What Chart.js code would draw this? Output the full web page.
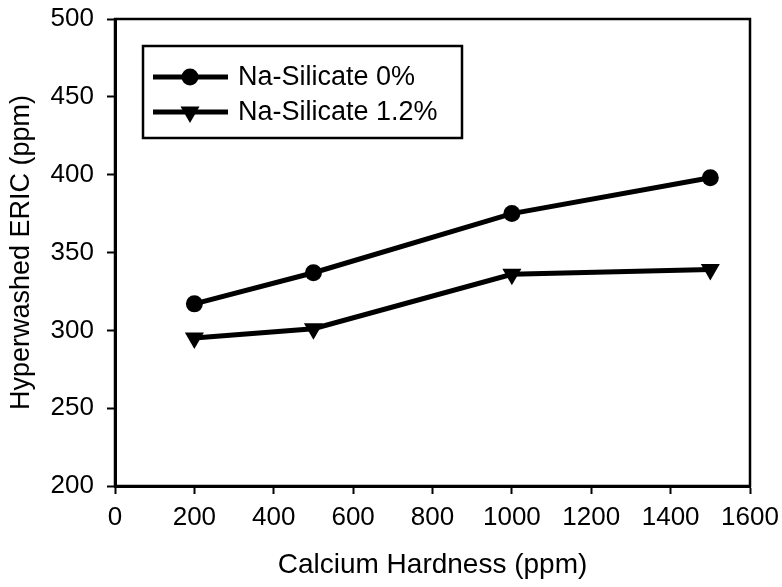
<!DOCTYPE html>
<html>
<head>
<meta charset="utf-8">
<script src="https://cdn.jsdelivr.net/npm/chart.js@4.4.1/dist/chart.umd.min.js"></script>
<style>
  html, body { margin: 0; padding: 0; background: #fff; }
  #wrap { width: 782px; height: 587px; }
</style>
</head>
<body>
<div id="wrap"><canvas id="chart" width="782" height="587"></canvas></div>
<script>
// values
const hardness = [200, 500, 1000, 1500];
const silicate0 = [317, 337, 375, 398];
const silicate12 = [295, 301, 336, 339];
const seriesNames = ['Na-Silicate 0%', 'Na-Silicate 1.2%'];
const xTicks = [0, 200, 400, 600, 800, 1000, 1200, 1400, 1600];
const yTicks = [200, 250, 300, 350, 400, 450, 500];

const FONT = '"Liberation Sans", Arial, sans-serif';

function toPoints(xs, ys) {
  return xs.map((x, i) => ({ x: x, y: ys[i] }));
}

// box round the plot area
const frame = {
  id: 'frame',
  beforeDatasetsDraw(chart) {
    const a = chart.chartArea;
    const ctx = chart.ctx;
    ctx.save();
    ctx.strokeStyle = '#000';
    ctx.lineWidth = 2.5;
    ctx.strokeRect(a.left, a.top, a.right - a.left, a.bottom - a.top);
    ctx.restore();
  }
};

// legend: line sample with marker, inside a box
const boxLegend = {
  id: 'boxLegend',
  afterDraw(chart) {
    const ctx = chart.ctx;
    ctx.save();
    ctx.strokeStyle = '#000';
    ctx.lineWidth = 2.5;
    ctx.strokeRect(143, 46, 319, 92);
    chart.data.datasets.forEach((ds, i) => {
      const y = 77 + i * 35;
      ctx.strokeStyle = ds.borderColor;
      ctx.lineWidth = ds.borderWidth;
      ctx.beginPath();
      ctx.moveTo(153, y);
      ctx.lineTo(228, y);
      ctx.stroke();
      ctx.fillStyle = ds.pointBackgroundColor;
      Chart.helpers.drawPoint(ctx, {
        pointStyle: ds.pointStyle,
        radius: ds.pointRadius,
        rotation: ds.pointRotation || 0,
        borderWidth: 0
      }, 190, y);
      ctx.fillStyle = '#000';
      ctx.font = '27px ' + FONT;
      ctx.textBaseline = 'middle';
      ctx.fillText(ds.label, 238, y + 1);
    });
    ctx.restore();
  }
};

new Chart(document.getElementById('chart').getContext('2d'), {
  type: 'line',
  data: {
    datasets: [
      {
        label: seriesNames[0],
        data: toPoints(hardness, silicate0),
        borderColor: '#000',
        backgroundColor: '#000',
        pointBackgroundColor: '#000',
        borderWidth: 5,
        pointStyle: 'circle',
        pointRadius: 8.5,
        pointBorderWidth: 0
      },
      {
        label: seriesNames[1],
        data: toPoints(hardness, silicate12),
        borderColor: '#000',
        backgroundColor: '#000',
        pointBackgroundColor: '#000',
        borderWidth: 5,
        pointStyle: 'triangle',
        pointRotation: 180,
        pointRadius: 11,
        pointBorderWidth: 0
      }
    ]
  },
  options: {
    responsive: false,
    animation: false,
    layout: { padding: { top: 19, right: 32, left: 0, bottom: 0 } },
    plugins: {
      legend: { display: false },
      tooltip: { enabled: false }
    },
    scales: {
      x: {
        type: 'linear',
        min: 0,
        max: 1600,
        afterFit: s => { s.height = 101; s.paddingLeft = 0; s.paddingRight = 0; },
        afterBuildTicks: s => { s.ticks = xTicks.map(v => ({ value: v })); },
        border: { display: true, color: '#000', width: 3 },
        grid: { drawOnChartArea: false, drawTicks: true, tickLength: 8, tickWidth: 2, tickColor: '#000' },
        ticks: { color: '#000', padding: 8, maxRotation: 0, callback: v => String(v), font: { family: FONT, size: 26 } },
        title: {
          display: true,
          text: 'Calcium Hardness (ppm)',
          color: '#000',
          font: { family: FONT, size: 28 },
          padding: { top: 0, bottom: 5 }
        }
      },
      y: {
        type: 'linear',
        min: 200,
        max: 500,
        afterFit: s => { s.width = 115; s.paddingTop = 0; s.paddingBottom = 0; },
        afterBuildTicks: s => { s.ticks = yTicks.map(v => ({ value: v })); },
        border: { display: true, color: '#000', width: 3 },
        grid: { drawOnChartArea: false, drawTicks: true, tickLength: 8, tickWidth: 2, tickColor: '#000' },
        ticks: { color: '#000', padding: 13, callback: v => String(v), font: { family: FONT, size: 26 } },
        title: {
          display: true,
          text: 'Hyperwashed ERIC (ppm)',
          color: '#000',
          font: { family: FONT, size: 27 },
          padding: { top: 5, bottom: 0 }
        }
      }
    }
  },
  plugins: [frame, boxLegend]
});
</script>
</body>
</html>
